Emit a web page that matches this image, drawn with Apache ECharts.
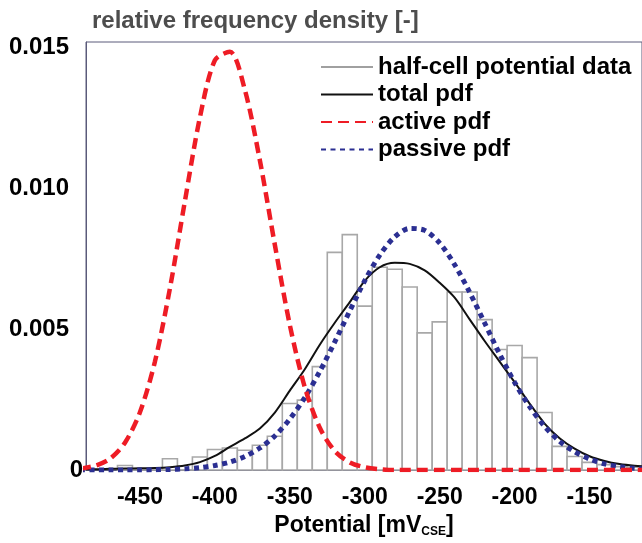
<!DOCTYPE html>
<html><head><meta charset="utf-8">
<script src="https://cdn.jsdelivr.net/npm/echarts@6/dist/echarts.min.js"></script>
<style>html,body{margin:0;padding:0;background:#fff}#c{width:642px;height:543px}</style>
</head><body><div id="c"></div>
<script>
// Histogram (bin centres in mV, bin width 10 mV) and relative frequency density
const binWidth = 10;
const histCenters = [-460,-450,-440,-430,-420,-410,-400,-390,-380,-370,-360,-350,-340,-330,-320,-310,-300,-290,-280,-270,-260,-250,-240,-230,-220,-210,-200,-190,-180,-170,-160,-150,-140,-130,-120];
const histValues  = [0.00016,0,0,0.0004,0,0.00046,0.00073,0.00078,0.00070,0.00088,0.0012,0.00236,0.00248,0.00367,0.00773,0.00836,0.00582,0.0072,0.00713,0.0065,0.00487,0.00526,0.00632,0.00632,0.00534,0.00428,0.00442,0.00399,0.00204,0.00084,0.00048,0.00027,0.00019,0.00012,0.0001];
// Fitted curves, read at 10 mV steps
const curveX = [-490,-480,-470,-460,-450,-440,-430,-420,-410,-400,-390,-380,-370,-360,-350,-340,-330,-320,-310,-300,-290,-280,-270,-260,-250,-240,-230,-220,-210,-200,-190,-180,-170,-160,-150,-140,-130,-120,-110];
const activePdf  = [0.00005,0.00015,0.0004,0.00097,0.00205,0.00385,0.00645,0.00955,0.01252,0.01455,0.01485,0.0135,0.0110,0.0080,0.00515,0.00294,0.0015,0.00067,0.00027,0.0001,0.00003,0,0,0,0,0,0,0,0,0,0,0,0,0,0,0,0,0,0];
const passivePdf = [0,0,0,0,0,0.00001,0.00002,0.00004,0.00008,0.00016,0.00028,0.00048,0.00078,0.00121,0.00181,0.00257,0.0035,0.00455,0.00565,0.00672,0.00763,0.00828,0.00858,0.00851,0.00806,0.00729,0.00631,0.00522,0.00412,0.00311,0.00225,0.00155,0.00102,0.00065,0.00039,0.00022,0.00012,0.00006,0.00003];
const totalPdf   = [0.00003,0.00003,0.00004,0.00005,0.00006,0.00007,0.0001,0.00016,0.00028,0.0005,0.00082,0.00112,0.00147,0.00204,0.00282,0.00358,0.00445,0.00523,0.00596,0.00672,0.0072,0.00736,0.00732,0.00709,0.00665,0.00612,0.00535,0.00458,0.00385,0.00312,0.00236,0.00165,0.00113,0.00076,0.00049,0.00032,0.00021,0.00015,0.00012];
const xTicks = [-450,-400,-350,-300,-250,-200,-150];
const yTicks = [0,0.005,0.010,0.015];
const seriesNames = ['half-cell potential data','total pdf','active pdf','passive pdf'];

const FONT = 'Liberation Sans, Arial, sans-serif';
const chart = echarts.init(document.getElementById('c'), null, {renderer:'canvas'});
const pairs = arr => curveX.map((x,i)=>[x, arr[i]]);

chart.setOption({
  animation:false,
  title:{text:'relative frequency density [-]', left:87, top:4,
    textStyle:{fontFamily:FONT, fontSize:24, fontWeight:'bold', color:'#4d4d4d'}},
  grid:{left:86, top:42, right:-2, bottom:70, show:true, borderColor:'#5a5a7a', borderWidth:1, backgroundColor:'transparent'},
  legend:{orient:'vertical', left:315, top:50, itemWidth:52, itemHeight:14, itemGap:3.5,
    selectedMode:false, data:seriesNames, itemStyle:{opacity:0},
    textStyle:{fontFamily:FONT, fontSize:24, lineHeight:24, fontWeight:'bold', color:'#000'}},
  xAxis:{type:'value', min:-486, max:-115,
    name:'{a|Potential [mV}{b|CSE}{a|]}', nameLocation:'middle', nameGap:44,
    nameTextStyle:{rich:{a:{fontFamily:FONT, fontSize:23, fontWeight:'bold', color:'#000'},
                         b:{fontFamily:FONT, fontSize:12, fontWeight:'bold', color:'#000', verticalAlign:'bottom', padding:[12,0,0,0]}}},
    axisLine:{show:true, onZero:false, lineStyle:{color:'#5a5a7a', width:1}},
    axisTick:{show:false},
    splitLine:{show:false},
    axisLabel:{customValues:xTicks, fontFamily:FONT, fontSize:23, fontWeight:'bold', color:'#000', margin:16}
  },
  yAxis:{type:'value', min:0, max:0.0152,
    axisLine:{show:true, lineStyle:{color:'#5a5a7a', width:1}},
    axisTick:{show:false}, splitLine:{show:false},
    axisLabel:{customValues:yTicks, margin:3,
      formatter:v => v===0 ? '{z|0}' : '{d|'+v.toFixed(3)+'}',
      rich:{z:{fontFamily:FONT, fontSize:24, fontWeight:'bold', color:'#000'},
            d:{fontFamily:FONT, fontSize:24, fontWeight:'bold', color:'#000', padding:[0,14,0,0]}}}
  },
  series:[
    {type:'custom', name:'hist', data:histCenters.map((c,i)=>[c, histValues[i]]),
      renderItem:(params, api)=>{
        const c = api.value(0), v = api.value(1);
        const p0 = api.coord([c-binWidth/2, 0]);
        const p1 = api.coord([c+binWidth/2, v]);
        return {type:'rect', shape:{x:p0[0], y:p1[1], width:p1[0]-p0[0], height:p0[1]-p1[1]},
          style:{fill:'#fff', stroke:'#a8a8a8', lineWidth:1.6}};
      }, z:1},
    {type:'line', name:seriesNames[0], data:[], symbol:'none', color:'#a0a0a0', lineStyle:{color:'#a0a0a0', width:2.5}},
    {type:'line', name:seriesNames[1], data:pairs(totalPdf), symbol:'none', smooth:0.3, color:'#111', lineStyle:{color:'#111', width:2}, z:3},
    {type:'line', name:seriesNames[3], data:pairs(passivePdf), symbol:'none', smooth:0.3, color:'#2b2f92', lineStyle:{color:'#2b2f92', width:5, type:[5,4.5], cap:'butt'}, z:4},
    {type:'line', name:seriesNames[2], data:pairs(activePdf), symbol:'none', smooth:0.3, color:'#ee1c25', lineStyle:{color:'#ee1c25', width:4.5, type:[11,6], cap:'butt'}, z:5}
  ]
});
</script></body></html>
